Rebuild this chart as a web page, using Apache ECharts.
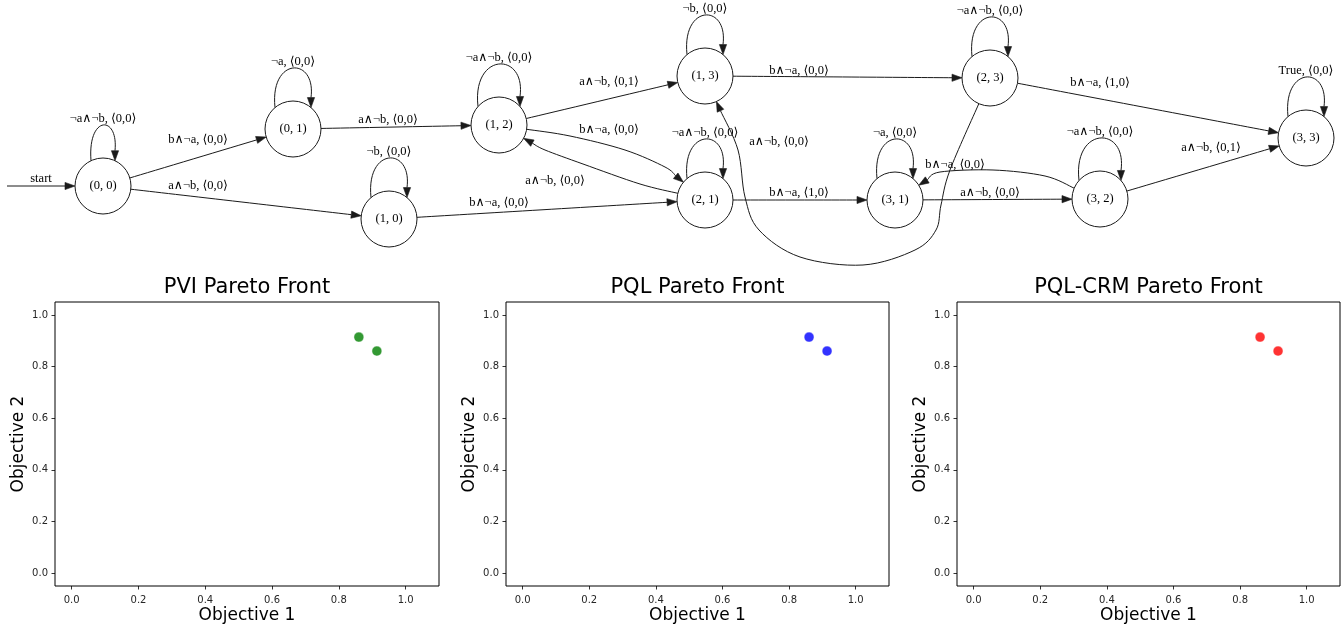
<!DOCTYPE html>
<html>
<head>
<meta charset="utf-8">
<script src="https://cdn.jsdelivr.net/npm/echarts@6/dist/echarts.min.js"></script>
<style>
  html, body { margin: 0; padding: 0; background: #fff; }
  #chart { width: 1344px; height: 631px; }
</style>
</head>
<body>
<div id="chart"></div>
<script>
// ---- Reward machine: states and labelled transitions ----
const states = ['(0, 0)', '(0, 1)', '(1, 0)', '(1, 2)', '(1, 3)', '(2, 1)', '(2, 3)', '(3, 1)', '(3, 2)', '(3, 3)'];
const initialState = '(0, 0)';
const transFrom = ['(0, 0)', '(0, 0)', '(0, 0)', '(0, 1)', '(0, 1)', '(1, 0)', '(1, 0)', '(1, 2)', '(1, 2)', '(1, 2)', '(1, 3)', '(1, 3)',
                   '(2, 1)', '(2, 1)', '(2, 1)', '(2, 3)', '(2, 3)', '(2, 3)', '(3, 1)', '(3, 1)', '(3, 2)', '(3, 2)', '(3, 2)', '(3, 3)'];
const transTo   = ['(0, 0)', '(0, 1)', '(1, 0)', '(0, 1)', '(1, 2)', '(1, 0)', '(2, 1)', '(1, 2)', '(1, 3)', '(2, 1)', '(1, 3)', '(2, 3)',
                   '(2, 1)', '(1, 2)', '(3, 1)', '(2, 3)', '(1, 3)', '(3, 3)', '(3, 1)', '(3, 2)', '(3, 2)', '(3, 1)', '(3, 3)', '(3, 3)'];
const transGuard = ['¬a∧¬b', 'b∧¬a', 'a∧¬b', '¬a', 'a∧¬b', '¬b', 'b∧¬a', '¬a∧¬b', 'a∧¬b', 'b∧¬a', '¬b', 'b∧¬a',
                    '¬a∧¬b', 'a∧¬b', 'b∧¬a', '¬a∧¬b', 'a∧¬b', 'b∧¬a', '¬a', 'a∧¬b', '¬a∧¬b', 'b∧¬a', 'a∧¬b', 'True'];
const transReward = ['0,0', '0,0', '0,0', '0,0', '0,0', '0,0', '0,0', '0,0', '0,1', '0,0', '0,0', '0,0',
                     '0,0', '0,0', '1,0', '0,0', '0,0', '1,0', '0,0', '0,0', '0,0', '0,0', '0,1', '0,0'];

// ---- Pareto fronts: (objective 1, objective 2) ----
const pviObj1 = [0.86, 0.914];
const pviObj2 = [0.914, 0.86];
const pqlObj1 = [0.86, 0.914];
const pqlObj2 = [0.914, 0.86];
const crmObj1 = [0.86, 0.914];
const crmObj2 = [0.914, 0.86];
const objTicks = [0, 0.2, 0.4, 0.6, 0.8, 1.0];
const panelTitles = ['PVI Pareto Front', 'PQL Pareto Front', 'PQL-CRM Pareto Front'];

// ---- Diagram layout (in diagram units of the top panel) ----
const stateXY = {
  '(0, 0)': [103, 186], '(0, 1)': [293, 129], '(1, 0)': [389, 219], '(1, 2)': [499, 125], '(1, 3)': [705, 76],
  '(2, 1)': [705, 200], '(2, 3)': [990, 78], '(3, 1)': [895, 200], '(3, 2)': [1100, 199], '(3, 3)': [1306, 138]
};
const loopHalfWidth = { '(0, 0)': 12, '(1, 2)': 21, '(3, 2)': 21 };
const edgeLabelXY = {
  1: [198, 140], 2: [198, 186], 4: [388, 120], 6: [499, 203], 8: [609, 82], 9: [609, 130],
  11: [799, 71], 13: [555, 181], 14: [799, 193], 16: [779, 142], 17: [1100, 83], 19: [990, 193],
  21: [955, 165], 22: [1211, 148]
};
const edgeVia = {
  9:  [[570, 136], [625, 150], [665, 167]],
  13: [[640, 184], [583, 164], [545, 150]],
  16: [[950, 170], [941, 205], [936, 230], [915, 250], [863, 265], [800, 257], [759, 230], [745, 197], [738, 150]],
  21: [[1045, 176], [993, 170], [940, 172]]
};
const NODE_R = 28, LOOP_TOP = 61, LOOP_LABEL = 67, ARROW_L = 10, ARROW_W = 3.6, START_LEN = 68;
const LINE = '#1a1a1a';
const SERIF = '12.5px "Liberation Serif", "DejaVu Serif", serif';

function sub(a, b) { return [a[0] - b[0], a[1] - b[1]]; }
function unit(v) { const l = Math.hypot(v[0], v[1]); return [v[0] / l, v[1] / l]; }
function along(p, d, k) { return [p[0] + d[0] * k, p[1] + d[1] * k]; }

// smooth path (Catmull-Rom as cubic Béziers) through pixel points
function smoothPath(pts) {
  let d = 'M' + pts[0][0] + ' ' + pts[0][1];
  for (let i = 0; i < pts.length - 1; i++) {
    const p0 = pts[Math.max(0, i - 1)], p1 = pts[i], p2 = pts[i + 1], p3 = pts[Math.min(pts.length - 1, i + 2)];
    const c1 = [p1[0] + (p2[0] - p0[0]) / 6, p1[1] + (p2[1] - p0[1]) / 6];
    const c2 = [p2[0] - (p3[0] - p1[0]) / 6, p2[1] - (p3[1] - p1[1]) / 6];
    d += ' C' + c1.join(' ') + ' ' + c2.join(' ') + ' ' + p2.join(' ');
  }
  return d;
}

function arrowHead(api, tip, dir) {
  const base = along(tip, dir, -ARROW_L);
  const n = [-dir[1], dir[0]];
  return {
    type: 'polygon',
    shape: { points: [tip, along(base, n, ARROW_W), along(base, n, -ARROW_W)].map(p => api.coord(p)) },
    style: { fill: LINE, stroke: LINE, lineWidth: 0.6 }
  };
}

function edgeLabel(api, pos, text) {
  const p = api.coord(pos);
  return { type: 'text', x: p[0], y: p[1],
           style: { text: text, font: SERIF, fill: '#000', align: 'center', verticalAlign: 'middle',
                    textAlign: 'center', textVerticalAlign: 'middle' } };
}

function renderEdge(params, api) {
  const i = api.value(0);
  const src = stateXY[transFrom[i]], dst = stateXY[transTo[i]];
  const text = transGuard[i] + ', ⟨' + transReward[i] + '⟩';
  const children = [];
  if (transFrom[i] === transTo[i]) {
    const hw = loopHalfWidth[transFrom[i]] || 18;
    const dy = Math.sqrt(NODE_R * NODE_R - hw * hw);
    const p0 = [src[0] - hw, src[1] - dy];
    const tip = [src[0] + hw, src[1] - dy];
    const base = [tip[0], tip[1] - ARROW_L];
    const top = src[1] - LOOP_TOP;
    const yc = (top - (p0[1] + base[1]) / 8) / 0.75;
    const pts = [p0, [p0[0] - hw * 0.3, yc], [base[0] + hw * 0.3, yc], base].map(p => api.coord(p));
    children.push({ type: 'bezierCurve',
      shape: { x1: pts[0][0], y1: pts[0][1], cpx1: pts[1][0], cpy1: pts[1][1], cpx2: pts[2][0], cpy2: pts[2][1], x2: pts[3][0], y2: pts[3][1] },
      style: { stroke: LINE, lineWidth: 1, fill: null } });
    children.push(arrowHead(api, tip, [0, 1]));
    children.push(edgeLabel(api, [src[0], src[1] - LOOP_LABEL], text));
  } else {
    const via = edgeVia[i] || [];
    const first = via.length ? via[0] : dst;
    const last = via.length ? via[via.length - 1] : src;
    const start = along(src, unit(sub(first, src)), NODE_R);
    const tip = along(dst, unit(sub(last, dst)), NODE_R);
    const dir = via.length ? unit(sub(tip, last)) : unit(sub(dst, src));
    const base = along(tip, dir, -ARROW_L);
    const pts = [start].concat(via, [base]).map(p => api.coord(p));
    children.push({ type: 'path', shape: { pathData: smoothPath(pts) },
                    style: { stroke: LINE, lineWidth: 1, fill: null } });
    children.push(arrowHead(api, tip, dir));
    children.push(edgeLabel(api, edgeLabelXY[i], text));
  }
  return { type: 'group', children: children };
}

function renderState(params, api) {
  const name = states[params.dataIndex];
  const c = api.coord([api.value(0), api.value(1)]);
  const r = api.size([NODE_R, 0])[0];
  const children = [];
  if (name === initialState) {
    const ctr = stateXY[name];
    const tip = [ctr[0] - NODE_R, ctr[1]];
    const from = [tip[0] - START_LEN, tip[1]];
    const a = api.coord(from), b = api.coord([tip[0] - ARROW_L, tip[1]]);
    children.push({ type: 'line', shape: { x1: a[0], y1: a[1], x2: b[0], y2: b[1] }, style: { stroke: LINE, lineWidth: 1 } });
    children.push(arrowHead(api, tip, [1, 0]));
    children.push(edgeLabel(api, [from[0] + 34, from[1] - 7.5], 'start'));
  }
  children.push({ type: 'circle', shape: { cx: c[0], cy: c[1], r: r }, style: { fill: '#fff', stroke: LINE, lineWidth: 1 } });
  children.push({ type: 'text', x: c[0], y: c[1],
    style: { text: name, font: SERIF, fill: '#000', align: 'center', verticalAlign: 'middle', textAlign: 'center', textVerticalAlign: 'middle' } });
  return { type: 'group', children: children };
}

// ---- Pareto panels ----
const panelLeft = [55, 506, 957];
const panelWidth = [384, 383, 383];
const panelTop = 302, panelHeight = 284;
const sans = '"DejaVu Sans", sans-serif';

function objAxis(gridIndex, name, isY) {
  return {
    type: 'value', gridIndex: gridIndex, min: -0.05, max: isY ? 1.05 : 1.1,
    name: name, nameLocation: 'middle', nameGap: isY ? 28 : 21,
    nameTextStyle: { fontFamily: sans, fontSize: 17, color: '#000' },
    axisLine: { show: false, onZero: false },
    splitLine: { show: false },
    axisTick: { show: true, length: 3.5, customValues: objTicks, lineStyle: { color: '#000', width: 0.8 } },
    axisLabel: { show: true, customValues: objTicks, formatter: v => v.toFixed(1),
                 fontFamily: sans, fontSize: 10, color: '#262626', margin: isY ? 7 : 9 }
  };
}

const fronts = [[pviObj1, pviObj2], [pqlObj1, pqlObj2], [crmObj1, crmObj2]];
const frontColors = ['#008000', '#0000ff', '#ff0000'];

const grids = panelLeft.map((l, k) => ({ left: l, top: panelTop, width: panelWidth[k], height: panelHeight,
  show: true, borderColor: '#000', borderWidth: 1, backgroundColor: 'transparent' }));
grids.push({ left: 0, top: 0, width: 1344, height: 270, show: false });

const xAxes = panelLeft.map((l, k) => objAxis(k, 'Objective 1', false));
const yAxes = panelLeft.map((l, k) => objAxis(k, 'Objective 2', true));
xAxes.push({ type: 'value', gridIndex: 3, min: 0, max: 1344, show: false });
yAxes.push({ type: 'value', gridIndex: 3, min: 0, max: 270, inverse: true, show: false });

const series = fronts.map((f, k) => ({
  type: 'scatter', xAxisIndex: k, yAxisIndex: k,
  data: f[0].map((x, i) => [x, f[1][i]]),
  symbol: 'circle', symbolSize: 10,
  itemStyle: { color: frontColors[k], opacity: 0.8, borderColor: '#fff', borderWidth: 0.6 }
}));
series.push({ type: 'custom', xAxisIndex: 3, yAxisIndex: 3, silent: true,
  data: transFrom.map((s, i) => [i]), renderItem: renderEdge });
series.push({ type: 'custom', xAxisIndex: 3, yAxisIndex: 3, silent: true,
  data: states.map(s => stateXY[s]), renderItem: renderState });

const titleCenters = [247, 697.5, 1148.5];
const graphic = panelTitles.map((t, k) => ({
  type: 'text', x: titleCenters[k], y: 288,
  style: { text: t, font: '21px ' + sans, fill: '#000', align: 'center', verticalAlign: 'middle',
           textAlign: 'center', textVerticalAlign: 'middle' }
}));

const chart = echarts.init(document.getElementById('chart'), null, { renderer: 'canvas' });
chart.setOption({
  animation: false,
  backgroundColor: '#fff',
  grid: grids,
  xAxis: xAxes,
  yAxis: yAxes,
  graphic: graphic,
  series: series
});
</script>
</body>
</html>
